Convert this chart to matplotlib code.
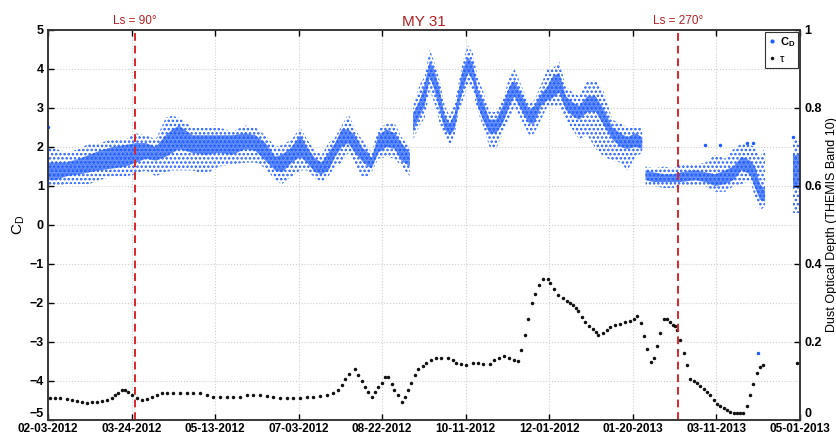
import numpy as np
import matplotlib
matplotlib.use('Agg')
import matplotlib.pyplot as plt
from matplotlib.lines import Line2D

plt.rcParams['font.family'] = ['Liberation Sans', 'DejaVu Sans']
plt.rcParams['mathtext.default'] = 'regular'
plt.rcParams['hatch.linewidth'] = 1.2

# x axis: days since 02-03-2012
tick_labels = ['02-03-2012', '03-24-2012', '05-13-2012', '07-03-2012', '08-22-2012',
               '10-11-2012', '12-01-2012', '01-20-2013', '03-11-2013', '05-01-2013']
x_end = 453

# Ls markers (days)
ls90_day = 52.4
ls270_day = 379.5

# C_D cloud: outer range and dense core range (nan = break)
cd_day = [0, 5, 11, 19, 25, 31, 39, 47, 53, 59, 65, 71, 75, 79, 87, 95, 103, 111, 119, 125,
          131, 137, 141, 147, 152, 156, 161, 165, 169, 173, 177, 181, 185, 189, 193, 195, 199,
          204, 209, 213, 218, 219, 220, 224, 227, 230, 233, 236, 239, 242, 245, 247, 250, 253,
          256, 259, 262, 266, 270, 274, 278, 281, 284, 287, 290, 293, 297, 301, 304, 308, 312,
          316, 320, 325, 330, 335, 340, 345, 349, 354, 358, 359, 360, 365, 371, 377, 381, 390,
          396, 402, 408, 413, 418, 423, 426, 429, 432, 440, 449, 453]
cd_lo = [1.00, 1.00, 1.05, 1.05, 1.05, 1.15, 1.25, 1.25, 1.30, 1.40, 1.25, 1.35, 1.40, 1.40,
         1.40, 1.30, 1.50, 1.55, 1.60, 1.60, 1.45, 1.15, 1.05, 1.25, 1.40, 1.40, 1.20, 1.10,
         1.25, 1.50, 1.60, 1.85, 1.55, 1.25, 1.25, 1.35, 1.70, 1.75, 1.70, 1.50, 1.25, np.nan,
         2.20, 2.55, 2.75, 3.45, 3.10, 2.60, 2.30, 2.00, 2.30, 2.80, 3.20, 3.60, 3.45, 2.90,
         2.55, 2.00, 1.95, 2.35, 2.70, 3.05, 2.80, 2.55, 2.30, 2.35, 2.70, 3.05, 3.05, 3.05,
         2.70, 2.45, 2.20, 2.30, 1.95, 1.75, 1.65, 1.60, 1.40, 1.75, 1.85, np.nan, 1.00, 1.00,
         0.95, 0.95, 1.00, 1.00, 1.00, 0.85, 0.85, 1.00, 1.05, 1.15, 0.70, 0.40, 0.45, np.nan,
         0.30, 0.30]
cd_core_lo = [1.15, 1.15, 1.25, 1.30, 1.35, 1.40, 1.45, 1.50, 1.60, 1.70, 1.65, 1.75, 1.85,
              1.95, 1.85, 1.80, 1.85, 1.80, 1.95, 1.90, 1.65, 1.40, 1.35, 1.60, 1.75, 1.60,
              1.35, 1.30, 1.40, 1.75, 2.00, 2.10, 1.85, 1.65, 1.50, 1.45, 1.85, 2.00, 1.95,
              1.65, 1.50, np.nan, 2.40, 2.80, 3.05, 3.80, 3.45, 2.95, 2.45, 2.30, 2.45, 2.95,
              3.45, 3.90, 3.70, 3.05, 2.70, 2.35, 2.35, 2.60, 3.05, 3.30, 3.05, 2.80, 2.60,
              2.60, 3.05, 3.20, 3.25, 3.40, 2.95, 2.80, 2.70, 2.90, 2.90, 2.55, 2.20, 2.00,
              1.95, 2.00, 1.95, np.nan, 1.15, 1.10, 1.10, 1.10, 1.10, 1.15, 1.10, 1.00, 1.05,
              1.15, 1.40, 1.30, 0.95, 0.65, 0.60, np.nan, 0.95, 0.95]
cd_core_hi = [1.60, 1.60, 1.60, 1.70, 1.80, 1.90, 2.00, 2.05, 2.10, 2.10, 2.00, 2.30, 2.45,
              2.55, 2.30, 2.30, 2.30, 2.30, 2.35, 2.30, 2.10, 1.75, 1.80, 2.00, 2.30, 2.00,
              1.70, 1.60, 1.85, 2.10, 2.45, 2.45, 2.30, 2.00, 1.85, 1.70, 2.30, 2.45, 2.35,
              2.10, 1.85, np.nan, 2.85, 3.20, 3.60, 4.20, 3.95, 3.45, 2.80, 2.60, 2.85, 3.35,
              4.00, 4.30, 4.15, 3.45, 3.20, 2.70, 2.70, 3.05, 3.55, 3.70, 3.45, 3.20, 2.95,
              3.05, 3.35, 3.55, 3.80, 3.90, 3.30, 3.15, 3.05, 3.30, 3.30, 2.95, 2.50, 2.35,
              2.25, 2.35, 2.25, np.nan, 1.40, 1.35, 1.30, 1.30, 1.35, 1.40, 1.35, 1.30, 1.40,
              1.50, 1.75, 1.65, 1.50, 1.05, 0.90, np.nan, 1.80, 1.80]
cd_hi = [2.00, 1.95, 1.85, 1.95, 2.10, 2.10, 2.20, 2.20, 2.35, 2.30, 2.20, 2.75, 2.80, 2.75,
         2.50, 2.50, 2.50, 2.40, 2.55, 2.50, 2.30, 2.00, 2.05, 2.20, 2.50, 2.20, 1.90, 1.80,
         2.10, 2.25, 2.55, 2.85, 2.45, 2.20, 2.00, 1.85, 2.45, 2.60, 2.60, 2.25, 2.00, np.nan,
         3.05, 3.60, 3.80, 4.50, 4.15, 3.70, 3.05, 2.80, 3.10, 3.55, 4.20, 4.60, 4.40, 3.75,
         3.45, 2.90, 2.90, 3.20, 3.80, 4.00, 3.70, 3.40, 3.10, 3.20, 3.60, 4.00, 4.00, 4.20,
         3.55, 3.40, 3.30, 3.70, 3.70, 3.40, 2.70, 2.60, 2.50, 2.50, 2.50, np.nan, 1.50, 1.45,
         1.50, 1.45, 1.55, 1.55, 1.60, 1.80, 1.70, 1.95, 2.10, 2.05, 2.00, 1.75, 2.00, np.nan,
         2.20, 2.20]

# isolated C_D points
cd_out_day = [0, 396, 405, 421, 425, 449, 428]
cd_out_val = [2.5, 2.05, 2.05, 2.1, 2.1, 2.25, -3.28]

# dust optical depth (right axis)
tau_day = [1.2, 4.2, 7.2, 11.2, 14.3, 17.3, 20.3, 23.3, 26.3, 29.3, 32.3, 35.3, 38.4, 40.4,
           42.4, 44.4, 46.4, 48.4, 50.4, 53.4, 56.4, 59.4, 62.4, 65.5, 68.5, 71.5, 75.5, 79.5,
           83.5, 87.5, 91.6, 95.6, 99.6, 103.6, 107.6, 111.6, 115.7, 119.7, 123.7, 127.7,
           131.7, 135.7, 139.8, 143.8, 147.8, 151.8, 155.8, 159.8, 163.9, 167.9, 171.9, 174.9,
           176.9, 178.9, 181.5, 184.9, 186.9, 188.9, 191, 193, 195, 197, 199, 201, 203, 205,
           207, 208.4, 211, 213, 215, 217, 219, 221, 223, 225.7, 228, 231, 234, 237, 241,
           243.8, 246, 249, 252, 256, 259, 262, 266, 269, 272, 275, 278, 281, 283, 284.7,
           287.3, 289.4, 291.4, 293.4, 296, 298.4, 301.4, 302.5, 305, 307.5, 310, 312.5, 314.5,
           316.5, 318, 319.5, 321.5, 323.5, 326, 328.5, 330, 331.5, 334.5, 336.5, 338.6, 341.6,
           344.6, 347.6, 350.6, 353, 355, 357, 359, 361, 363, 365, 367, 369, 371, 373, 375,
           376.5, 377.5, 379, 381, 383, 385, 387, 389, 391, 393, 395, 397, 399, 401, 403, 405,
           407, 409, 411, 413, 415, 417, 419, 421, 423, 425, 427, 429, 431, 451]
tau_val = [0.057, 0.057, 0.057, 0.055, 0.052, 0.048, 0.045, 0.043, 0.045, 0.047, 0.049, 0.052,
           0.057, 0.063, 0.070, 0.076, 0.078, 0.073, 0.065, 0.057, 0.050, 0.054, 0.060, 0.065,
           0.069, 0.070, 0.070, 0.069, 0.069, 0.070, 0.068, 0.063, 0.060, 0.059, 0.058, 0.058,
           0.060, 0.063, 0.065, 0.063, 0.061, 0.059, 0.057, 0.056, 0.056, 0.057, 0.059, 0.060,
           0.062, 0.065, 0.070, 0.077, 0.089, 0.106, 0.119, 0.130, 0.115, 0.100, 0.084, 0.072,
           0.060, 0.072, 0.084, 0.094, 0.109, 0.109, 0.093, 0.076, 0.063, 0.047, 0.059, 0.076,
           0.095, 0.115, 0.132, 0.138, 0.145, 0.153, 0.158, 0.159, 0.160, 0.153, 0.146, 0.143,
           0.142, 0.145, 0.145, 0.143, 0.143, 0.153, 0.158, 0.163, 0.158, 0.153, 0.150, 0.179,
           0.218, 0.259, 0.300, 0.323, 0.347, 0.362, 0.362, 0.350, 0.335, 0.320, 0.312, 0.306,
           0.300, 0.295, 0.288, 0.280, 0.265, 0.250, 0.240, 0.234, 0.226, 0.218, 0.222, 0.230,
           0.238, 0.243, 0.247, 0.250, 0.255, 0.260, 0.266, 0.248, 0.215, 0.182, 0.148, 0.158,
           0.190, 0.224, 0.258, 0.260, 0.250, 0.244, 0.240, 0.232, 0.204, 0.171, 0.140, 0.105,
           0.100, 0.094, 0.087, 0.080, 0.072, 0.063, 0.052, 0.041, 0.035, 0.030, 0.025, 0.020,
           0.018, 0.017, 0.017, 0.017, 0.035, 0.065, 0.092, 0.120, 0.135, 0.141, 0.146]

BLUE = '#1f5cff'
RED = '#d8262b'
DARKRED = '#b51f24'

fig = plt.figure(figsize=(8.37, 4.36), dpi=100)
ax = fig.add_axes([0.0573, 0.0367, 0.8984, 0.8945])
ax2 = ax.twinx()

# sparse dots over the full spread, denser dots over the core
ax.fill_between(cd_day, cd_lo, cd_hi, facecolor='none', edgecolor=BLUE, hatch='....',
                linewidth=0, zorder=2)
ax.fill_between(cd_day, cd_core_lo, cd_core_hi, facecolor=BLUE, alpha=0.45,
                edgecolor='none', linewidth=0, zorder=2)
ax.fill_between(cd_day, cd_core_lo, cd_core_hi, facecolor='none', edgecolor=BLUE,
                hatch='.......', linewidth=0, zorder=2)
ax.plot(cd_out_day, cd_out_val, '.', color=BLUE, ms=3, zorder=3)

ax2.plot(tau_day, tau_val, '.', color='#111111', ms=3)

for d in (ls90_day, ls270_day):
    ax2.axvline(d, color=RED, ls=(0, (4, 2.5)), lw=1.4)
ax.text(ls90_day, 5.08, 'Ls = 90°', color=DARKRED, fontsize=8.5, ha='center', va='bottom')
ax.text(ls270_day, 5.08, 'Ls = 270°', color=DARKRED, fontsize=8.5, ha='center', va='bottom')
ax.set_title('MY 31', color=DARKRED, fontsize=11, pad=3)

ax.set_xlim(0, x_end)
ax.set_ylim(-5, 5)
ax2.set_ylim(0, 1)
ax.set_xticks(np.linspace(0, x_end, 10))
ax.set_xticklabels(tick_labels)
ax.set_yticks(np.arange(-5, 6, 1))
ax2.set_yticks([0, 0.2, 0.4, 0.6, 0.8, 1])
ax2.set_yticklabels(['0', '0.2', '0.4', '0.6', '0.8', '1'])

ax.grid(True, color='#cfcfcf', ls=':', lw=0.8)
ax.set_axisbelow(True)
ax.tick_params(axis='both', direction='in', length=4, width=1, labelsize=9, pad=3, top=True)
ax.tick_params(axis='x', pad=2.5, labelsize=8.5)
ax2.tick_params(axis='y', direction='in', length=4, width=1, labelsize=9, pad=3)
for lab in ax.get_xticklabels() + ax.get_yticklabels() + ax2.get_yticklabels():
    lab.set_fontweight('bold')
# nudge the bottom y labels up so they clear the date labels
ax.get_yticklabels()[0].set_va('bottom')
ax2.get_yticklabels()[0].set_va('bottom')
for a in (ax, ax2):
    for s in a.spines.values():
        s.set_color('#333333')
        s.set_linewidth(1.1)

ax.set_ylabel('C$_D$', fontsize=11, labelpad=2)
ax2.set_ylabel('Dust Optical Depth (THEMIS Band 10)', fontsize=9, labelpad=3)

handles = [Line2D([], [], ls='none', marker='.', color=BLUE, ms=4),
           Line2D([], [], ls='none', marker='.', color='#111111', ms=3)]
leg = ax2.legend(handles, ['C$_D$', 'τ'], loc='upper right', fontsize=8,
                 handlelength=0.6, handletextpad=0.4, borderpad=0.3, labelspacing=0.5,
                 borderaxespad=0.15, fancybox=False, edgecolor='#333333', framealpha=1)
leg.get_frame().set_linewidth(0.8)
leg.get_texts()[0].set_fontweight('bold')

fig.savefig('out.png', dpi=100)
